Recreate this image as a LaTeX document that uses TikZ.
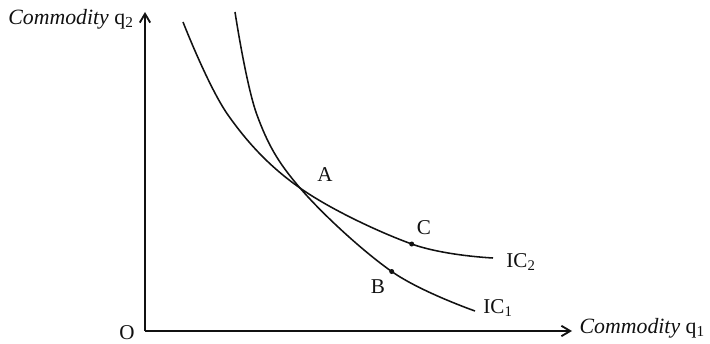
\documentclass[tikz,border=0pt]{standalone}
\usepackage{fontspec}
\setmainfont{Liberation Serif}
\usetikzlibrary{arrows.meta,calc,positioning}
\definecolor{PlotInk}{HTML}{111111}
\tikzset{
  every node/.style={font=\fontsize{15}{17}\selectfont, text=PlotInk, inner sep=1pt},
  axis/.style={-{Straight Barb[length=2.2mm,width=2.6mm]}, draw=PlotInk, line width=1.3pt},
  indiff/.style={draw=PlotInk, line width=1.1pt, smooth, tension=0.6},
  pointdot/.style={fill=PlotInk},
  axislabel/.style={font=\fontsize{15.5}{17}\selectfont\itshape},
}

\begin{document}
\begin{tikzpicture}[x=0.025cm,y=0.025cm]
  \useasboundingbox (0,0) rectangle (710,343);
  % Axes
  \coordinate (O) at (145,12);
  \coordinate (ytop) at (145,331);
  \coordinate (xend) at (572,12);
  \draw[axis] (O) -- (ytop);
  \draw[axis] (O) -- (xend);
  \node[anchor=south, inner sep=0pt] (origin) at (127,3) {O};
  \node[axislabel] (ylab) at (71,324) {Commodity \textup{q\textsubscript{2}}};
  \node[axislabel, anchor=west] (xlab) at (578,15) {Commodity \textup{q\textsubscript{1}}};
  % Points on the curves
  \coordinate (A) at (300,155);
  \coordinate (B) at (391.7,71.5);
  \coordinate (C) at (411.7,99);
  % Curves IC1 and IC2
  \draw[indiff] plot coordinates {(235,331) (257,228) (A) (B) (475,32)};
  \draw[indiff] plot coordinates {(183,321) (228,228) (A) (C) (493,85)};
  \fill[pointdot] (B) circle (2.5);
  \fill[pointdot] (C) circle (2.5);
  % Labels
  \node (lA) at (325,168) {A};
  \node (lB) at (378,56) {B};
  \node (lC) at (424,115) {C};
  \node (lIC1) at (498,35) {IC\textsubscript{1}};
  \node (lIC2) at (521,81) {IC\textsubscript{2}};
\end{tikzpicture}
\end{document}
